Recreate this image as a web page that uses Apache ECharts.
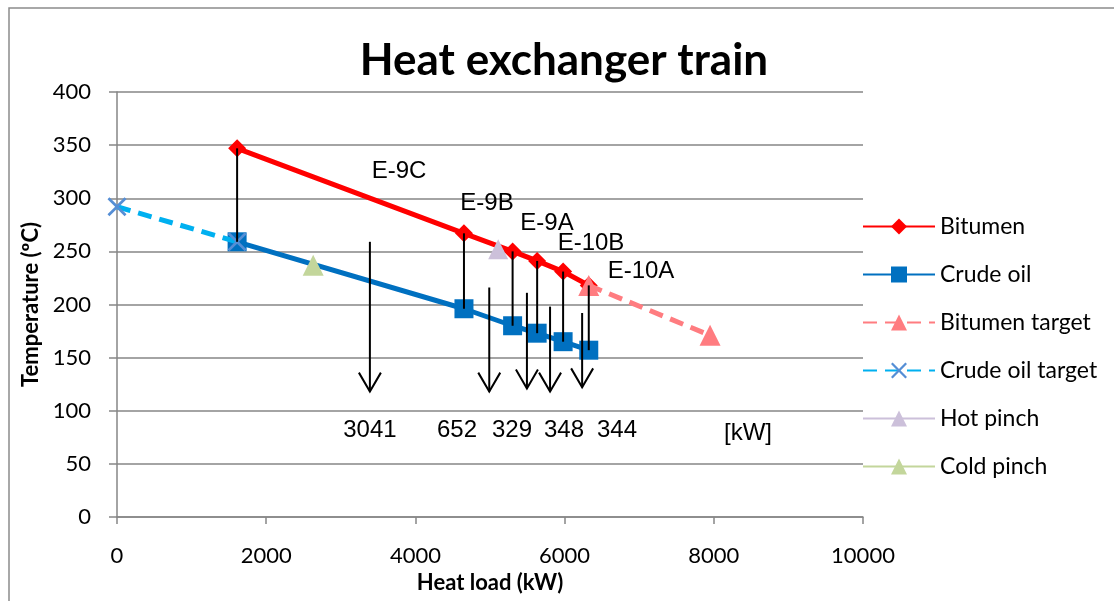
<!DOCTYPE html>
<html>
<head>
<meta charset="utf-8">
<script src="https://cdn.jsdelivr.net/npm/echarts@6/dist/echarts.min.js"></script>
<style>
  html, body { margin: 0; padding: 0; background: #fff; }
  #chart { width: 1114px; height: 601px; }
</style>
</head>
<body>
<div id="chart"></div>
<script>
// Heat exchanger train: bitumen cooled against crude oil through five exchangers
const exchangerNames = ['E-9C', 'E-9B', 'E-9A', 'E-10B', 'E-10A'];
const duties = [3041, 652, 329, 348, 344];           // kW per exchanger
const startLoad = 1610;                              // kW where the train starts
const bitumenTemps = [347, 267, 250, 241, 231, 218]; // °C
const crudeTemps = [259, 196, 180, 173, 165, 157];   // °C
const bitumenTargetEnd = [7950, 171];
const crudeTargetStart = [0, 292];
const hotPinch = [5110, 252];
const coldPinch = [2630, 237];

// Arrows showing each exchanger's duty
const arrowLoads = [3390, 4990, 5495, 5805, 6235];
const arrowTops = [259, 216, 211, 198, 192];
const arrowTips = [118, 118, 121, 118, 122];

// Text positions [kW, °C]
const dutyLabelLoads = [3391, 4558, 5295, 5992, 6702];
const dutyLabelTemp = 82;
const exchangerLabelPos = [[3780, 325], [4960, 295], [5764, 276], [6354, 258], [7024, 231]];
const unitLabel = '[kW]';
const unitLabelPos = [8458, 79];

const xTicks = { min: 0, max: 10000, interval: 2000 };
const yTicks = { min: 0, max: 400, interval: 50 };

// Cumulative heat load at each exchanger boundary
const loads = [startLoad];
duties.forEach(d => loads.push(loads[loads.length - 1] + d));

const bitumen = loads.map((x, i) => [x, bitumenTemps[i]]);
const crude = loads.map((x, i) => [x, crudeTemps[i]]);
const bitumenTarget = [bitumen[bitumen.length - 1], bitumenTargetEnd];
const crudeTarget = [crudeTargetStart, crude[0]];

const gray = '#868686';
const tickFont = 'Lato, "Open Sans", sans-serif';
const noteFont = '"Liberation Sans", Arial, sans-serif';
const crossPath = 'path://M0,1L1,0L5,4L9,0L10,1L6,5L10,9L9,10L5,6L1,10L0,9L4,5Z';

const chart = echarts.init(document.getElementById('chart'), null, { renderer: 'canvas' });

const option = {
  animation: false,
  backgroundColor: '#fff',
  graphic: [
    {
      type: 'rect', silent: true, z: -10,
      shape: { x: 9, y: 8, width: 1200, height: 700 },
      style: { fill: 'none', stroke: '#8c8c8c', lineWidth: 1.5 }
    },
    {
      type: 'text', silent: true,
      x: 564, y: 61,
      style: {
        text: 'Heat exchanger train',
        font: 'bold 44px Lato, "Open Sans", sans-serif',
        fill: '#000', textAlign: 'center', textVerticalAlign: 'middle'
      }
    }
  ],
  grid: { left: 117, right: 251, top: 92, bottom: 84 },
  legend: {
    orient: 'vertical',
    left: 862, top: 215,
    itemWidth: 72, itemHeight: 20, itemGap: 25,
    padding: 0,
    textStyle: { fontFamily: tickFont, fontSize: 23, color: '#000' },
    data: ['Bitumen', 'Crude oil', 'Bitumen target', 'Crude oil target', 'Hot pinch', 'Cold pinch']
  },
  xAxis: {
    type: 'value',
    min: xTicks.min, max: xTicks.max, interval: xTicks.interval,
    name: 'Heat load (kW)', nameLocation: 'middle', nameGap: 55,
    nameTextStyle: { fontFamily: tickFont, fontWeight: 'bold', fontSize: 22, color: '#000' },
    axisLine: { show: true, lineStyle: { color: gray, width: 1.5 } },
    axisTick: { show: true, length: 7, lineStyle: { color: gray, width: 1.5 } },
    axisLabel: { fontFamily: tickFont, fontSize: 22, color: '#000', margin: 28, formatter: v => String(v) },
    splitLine: { show: false }
  },
  yAxis: {
    type: 'value',
    min: yTicks.min, max: yTicks.max, interval: yTicks.interval,
    name: 'Temperature (ºC)', nameLocation: 'middle', nameGap: 74,
    nameTextStyle: { fontFamily: tickFont, fontWeight: 'bold', fontSize: 22, color: '#000' },
    axisLine: { show: true, lineStyle: { color: gray, width: 1.5 } },
    axisTick: { show: true, length: 8, lineStyle: { color: gray, width: 1.5 } },
    axisLabel: { fontFamily: tickFont, fontSize: 22, color: '#000', margin: 26, formatter: v => String(v) },
    splitLine: { show: true, lineStyle: { color: gray, width: 1.5 } }
  },
  series: [
    {
      name: 'Bitumen', type: 'line', data: bitumen,
      symbol: 'diamond', symbolSize: 18,
      itemStyle: { color: '#FF0000' },
      lineStyle: { color: '#FF0000', width: 5 }, z: 3
    },
    {
      name: 'Crude oil', type: 'line', data: crude,
      symbol: 'rect', symbolSize: 19,
      itemStyle: { color: '#0070C0' },
      lineStyle: { color: '#0070C0', width: 5 }, z: 3
    },
    {
      name: 'Bitumen target', type: 'line', data: bitumenTarget,
      symbol: 'triangle', symbolSize: 21,
      itemStyle: { color: '#FF7C80' },
      lineStyle: { color: '#FF7C80', width: 5, type: [14, 8] }, z: 4
    },
    {
      name: 'Crude oil target', type: 'line', data: crudeTarget,
      symbol: crossPath, symbolSize: 19,
      itemStyle: { color: '#558ED5' },
      lineStyle: { color: '#00B0F0', width: 5, type: [14, 8] }, z: 4
    },
    {
      name: 'Hot pinch', type: 'line', data: [hotPinch],
      symbol: 'triangle', symbolSize: 20,
      itemStyle: { color: '#CCC0DA' },
      lineStyle: { color: '#CCC0DA', width: 5 }, z: 5
    },
    {
      name: 'Cold pinch', type: 'line', data: [coldPinch],
      symbol: 'triangle', symbolSize: 21,
      itemStyle: { color: '#C3D69B' },
      lineStyle: { color: '#C3D69B', width: 5 }, z: 5
    },
    {
      // Vertical connectors between the hot and cold stream at each boundary
      type: 'custom', silent: true, z: 6,
      data: loads.map((x, i) => [x, bitumenTemps[i], crudeTemps[i]]),
      renderItem: (params, api) => {
        const a = api.coord([api.value(0), api.value(1)]);
        const b = api.coord([api.value(0), api.value(2)]);
        return {
          type: 'line',
          shape: { x1: a[0], y1: a[1], x2: b[0], y2: b[1] },
          style: { stroke: '#000', lineWidth: 2 }
        };
      }
    },
    {
      // Duty arrows
      type: 'custom', silent: true, z: 6,
      data: arrowLoads.map((x, i) => [x, arrowTops[i], arrowTips[i]]),
      renderItem: (params, api) => {
        const top = api.coord([api.value(0), api.value(1)]);
        const tip = api.coord([api.value(0), api.value(2)]);
        return {
          type: 'group',
          children: [
            {
              type: 'line',
              shape: { x1: top[0], y1: top[1], x2: tip[0], y2: tip[1] },
              style: { stroke: '#000', lineWidth: 2 }
            },
            {
              type: 'polyline',
              shape: { points: [[tip[0] - 11, tip[1] - 19], [tip[0], tip[1]], [tip[0] + 11, tip[1] - 19]] },
              style: { stroke: '#000', lineWidth: 2, fill: 'none' }
            }
          ]
        };
      }
    },
    {
      // Duty values, exchanger tags and unit
      type: 'custom', silent: true, z: 7,
      data: [].concat(
        dutyLabelLoads.map((x, i) => [x, dutyLabelTemp, i]),
        exchangerLabelPos.map((p, i) => [p[0], p[1], 10 + i]),
        [[unitLabelPos[0], unitLabelPos[1], 20]]
      ),
      renderItem: (params, api) => {
        const p = api.coord([api.value(0), api.value(1)]);
        const k = api.value(2);
        let text;
        if (k < 10) text = String(duties[k]);
        else if (k < 20) text = exchangerNames[k - 10];
        else text = unitLabel;
        return {
          type: 'text',
          x: p[0], y: p[1],
          style: {
            text: text,
            font: '24px ' + noteFont,
            fill: '#000', textAlign: 'center', textVerticalAlign: 'middle'
          }
        };
      }
    }
  ]
};

chart.setOption(option);
</script>
</body>
</html>
